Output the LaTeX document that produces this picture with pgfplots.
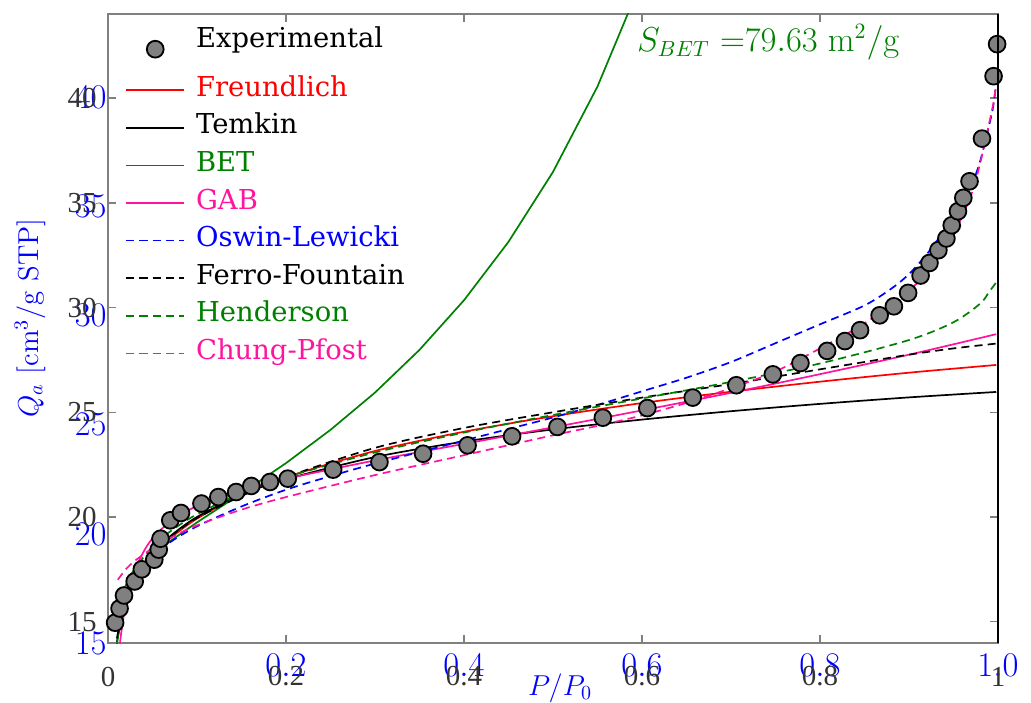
\documentclass[border=0pt]{standalone}
\usepackage[no-math]{fontspec}
\setmainfont{DejaVu Serif}
\newfontfamily\tickfont{Liberation Serif}
\usepackage{pgfplots}
\pgfplotsset{compat=1.18}

\definecolor{gabpink}{RGB}{255,20,160}
\definecolor{betgreen}{RGB}{0,128,0}
\definecolor{tickgray}{RGB}{51,51,51}
\definecolor{spinegray}{RGB}{128,128,128}
\definecolor{markgray}{RGB}{128,128,128}

% legend sample: 29pt wide, a mark (if any) in the middle
\pgfplotsset{
  widelegend/.style={legend image code/.code={\draw[mark repeat=2,mark phase=2,##1]
    plot coordinates {(0pt,0pt) (14.5pt,0pt) (29pt,0pt)};}},
  markerlegend/.style={legend image code/.code={\draw[mark repeat=2,mark phase=2,##1]
    plot coordinates {(0pt,0pt) (14.5pt,0pt) (29pt,0pt)};
    \path (0pt,-7.65pt);}},
}

\pgfplotstableread{
x y
0.008 14.95
0.013 15.63
0.018 16.25
0.030 16.92
0.038 17.50
0.052 17.96
0.057 18.44
0.059 18.96
0.070 19.84
0.082 20.19
0.105 20.64
0.124 20.95
0.144 21.19
0.161 21.48
0.182 21.67
0.202 21.83
0.253 22.26
0.305 22.62
0.354 23.02
0.404 23.42
0.454 23.85
0.505 24.30
0.556 24.74
0.606 25.20
0.657 25.70
0.706 26.29
0.747 26.81
0.778 27.35
0.808 27.93
0.828 28.40
0.845 28.92
0.867 29.63
0.883 30.06
0.899 30.70
0.913 31.53
0.923 32.13
0.933 32.74
0.942 33.30
0.948 33.93
0.955 34.60
0.961 35.24
0.968 36.03
0.982 38.07
0.995 41.05
0.999 42.58
}\expdata

\pgfplotstableread{
x y
0.010 14.55
0.015 15.38
0.020 16.00
0.030 16.91
0.040 17.58
0.050 18.13
0.070 18.98
0.100 19.92
0.150 21.06
0.200 21.90
0.300 23.15
0.400 24.07
0.500 24.81
0.600 25.44
0.700 25.98
0.800 26.46
0.900 26.89
0.998 27.26
}\freundlich

\pgfplotstableread{
x y
0.010 14.03
0.015 15.08
0.020 15.83
0.030 16.88
0.040 17.63
0.050 18.21
0.070 19.08
0.100 20.00
0.150 21.06
0.200 21.80
0.300 22.86
0.400 23.60
0.500 24.18
0.600 24.65
0.700 25.05
0.800 25.40
0.900 25.71
0.998 25.97
}\temkin

\pgfplotstableread{
x y
0.010 13.90
0.012 14.53
0.015 15.24
0.020 16.05
0.030 17.03
0.040 17.65
0.050 18.12
0.070 18.85
0.100 19.74
0.150 21.13
0.200 22.57
0.250 24.16
0.300 25.94
0.350 27.98
0.400 30.35
0.450 33.14
0.500 36.48
0.550 40.56
0.600 45.65
}\bet

\pgfplotstableread{
x y
0.012 13.41
0.015 14.51
0.020 15.81
0.030 17.40
0.040 18.34
0.050 18.97
0.070 19.78
0.100 20.52
0.150 21.27
0.200 21.82
0.300 22.70
0.400 23.49
0.500 24.28
0.600 25.09
0.700 25.93
0.800 26.82
0.900 27.75
0.998 28.73
}\gab

\pgfplotstableread{
x y
0.010 15.3
0.015 16.0
0.020 16.5
0.030 17.2
0.040 17.7
0.050 18.1
0.070 18.8
0.100 19.55
0.150 20.5
0.200 21.3
0.250 21.95
0.300 22.55
0.350 23.1
0.400 23.65
0.450 24.2
0.500 24.75
0.550 25.35
0.600 26.0
0.650 26.65
0.700 27.4
0.750 28.3
0.800 29.2
0.850 30.1
0.880 30.9
0.900 31.6
0.920 32.55
0.940 33.7
0.960 34.95
0.970 35.8
0.980 37.0
0.990 38.7
0.995 39.7
0.998 40.8
}\oswin

\pgfplotstableread{
x y
0.010 14.2
0.015 15.3
0.020 16.0
0.030 17.0
0.040 17.7
0.050 18.2
0.070 19.05
0.100 19.95
0.150 21.0
0.200 21.9
0.300 23.3
0.400 24.25
0.500 25.0
0.600 25.7
0.700 26.35
0.800 27.05
0.850 27.4
0.900 27.75
0.950 28.05
0.998 28.28
}\ferro

\pgfplotstableread{
x y
0.010 15.47
0.020 16.73
0.030 17.52
0.050 18.58
0.070 19.31
0.100 20.13
0.150 21.14
0.200 21.90
0.300 23.08
0.400 24.03
0.500 24.87
0.600 25.66
0.700 26.45
0.800 27.33
0.900 28.45
0.950 29.30
0.980 30.19
0.990 30.75
0.998 31.20
}\henderson

\pgfplotstableread{
x y
0.011 17.0
0.020 17.5
0.030 17.9
0.050 18.5
0.070 19.0
0.100 19.6
0.150 20.35
0.200 20.95
0.300 22.0
0.400 22.95
0.500 23.9
0.550 24.35
0.600 24.85
0.650 25.45
0.700 26.15
0.750 26.95
0.800 28.05
0.850 29.25
0.900 30.8
0.930 32.2
0.950 33.5
0.970 35.4
0.980 36.9
0.990 38.8
0.995 39.8
0.998 40.7
}\chung

\begin{document}
\begin{tikzpicture}
% blue tick labels and axis titles
\begin{axis}[
  scale only axis, width=445pt, height=314.5pt,
  at={(0,0)}, anchor=south west,
  xmin=0, xmax=1, ymin=15, ymax=43.83,
  axis line style={draw=none},
  major tick style={draw=none},
  xtick={0.2,0.4,0.6,0.8,1.0},
  ytick={15,20,25,30,35,40},
  xticklabel={\pgfmathprintnumber[fixed,fixed zerofill,precision=1]{\tick}},
  tick label style={font=\fontsize{17}{20}\selectfont, text=blue},
  xticklabel style={anchor=center, yshift=-11pt},
  yticklabel style={anchor=east, inner sep=0pt, xshift=-0.5pt},
  xlabel={$P/P_0$},
  ylabel={$Q_a\ [\mathrm{cm}^3/\mathrm{g\ STP}]$},
  label style={text=blue},
  xlabel style={font=\fontsize{14}{16}\selectfont, at={(axis description cs:0.508,0)}, anchor=center, yshift=-22.5pt},
  ylabel style={font=\fontsize{14.8}{17}\selectfont, at={(axis description cs:-0.0876,0.517)}, anchor=center},
]
\end{axis}

\begin{axis}[
  name=main,
  scale only axis, width=445pt, height=314.5pt,
  at={(0,0)}, anchor=south west,
  xmin=0, xmax=1, ymin=13.98, ymax=44.02,
  xtick={0,0.2,0.4,0.6,0.8,1},
  ytick={15,20,25,30,35,40},
  tick align=inside, major tick length=4pt,
  axis line style={spinegray, line width=0.75pt},
  every tick/.style={spinegray, line width=0.75pt},
  tick label style={font=\tickfont\fontsize{14.5}{17}\selectfont, text=tickgray,
    /pgf/number format/assume math mode=true},
  xticklabel style={anchor=center, yshift=-16.75pt},
  yticklabel style={anchor=east, inner sep=0pt, xshift=-5.5pt},
  legend style={draw=none, fill=none, at={(axis description cs:0,1)},
    anchor=north west, xshift=8.5pt, yshift=-11pt,
    font=\fontsize{13.7}{16}\selectfont, row sep=6pt, column sep=5.5pt,
    inner sep=0pt, nodes={inner sep=0pt, text height=9.5pt, text depth=3.3pt}},
  legend cell align=left,
  widelegend,
  every axis plot/.append style={line width=0.85pt},
  dashstyle/.style={dash pattern=on 4pt off 2.6pt},
]
\addplot[only marks, mark=*, mark size=4.2pt,
  mark options={fill=markgray, draw=black, line width=0.9pt}, markerlegend]
  table[x=x,y=y]{\expdata};
\addlegendentry{\raisebox{4pt}{Experimental}}

\addplot[red, smooth, no marks] table[x=x,y=y]{\freundlich};
\addlegendentry{\textcolor{red}{Freundlich}}
\addplot[black, smooth, no marks] table[x=x,y=y]{\temkin};
\addlegendentry{\textcolor{black}{Temkin}}
\addplot[betgreen, no marks] table[x=x,y=y]{\bet};
\addlegendentry{\textcolor{betgreen}{BET}}
\addplot[gabpink, smooth, no marks] table[x=x,y=y]{\gab};
\addlegendentry{\textcolor{gabpink}{GAB}}
\addplot[blue, dashstyle, smooth, no marks] table[x=x,y=y]{\oswin};
\addlegendentry{\textcolor{blue}{Oswin-Lewicki}}
\addplot[black, dashstyle, smooth, no marks] table[x=x,y=y]{\ferro};
\addlegendentry{\textcolor{black}{Ferro-Fountain}}
\addplot[betgreen, dashstyle, smooth, no marks] table[x=x,y=y]{\henderson};
\addlegendentry{\textcolor{betgreen}{Henderson}}
\addplot[gabpink, dashstyle, smooth, no marks] table[x=x,y=y]{\chung};
\addlegendentry{\textcolor{gabpink}{Chung-Pfost}}

\node[anchor=west, inner sep=0pt, text=betgreen, font=\fontsize{16}{19}\selectfont]
  at (axis cs:0.594,42.68) {$S_{BET}\ {=}79.63\ \mathrm{m}^2/\mathrm{g}$};
\end{axis}
\draw[black, line width=0.75pt] (main.south east) -- (main.north east);

\pgfresetboundingbox
\useasboundingbox (-54pt,-29.5pt) rectangle (461.5pt,321.5pt);
\end{tikzpicture}
\end{document}
